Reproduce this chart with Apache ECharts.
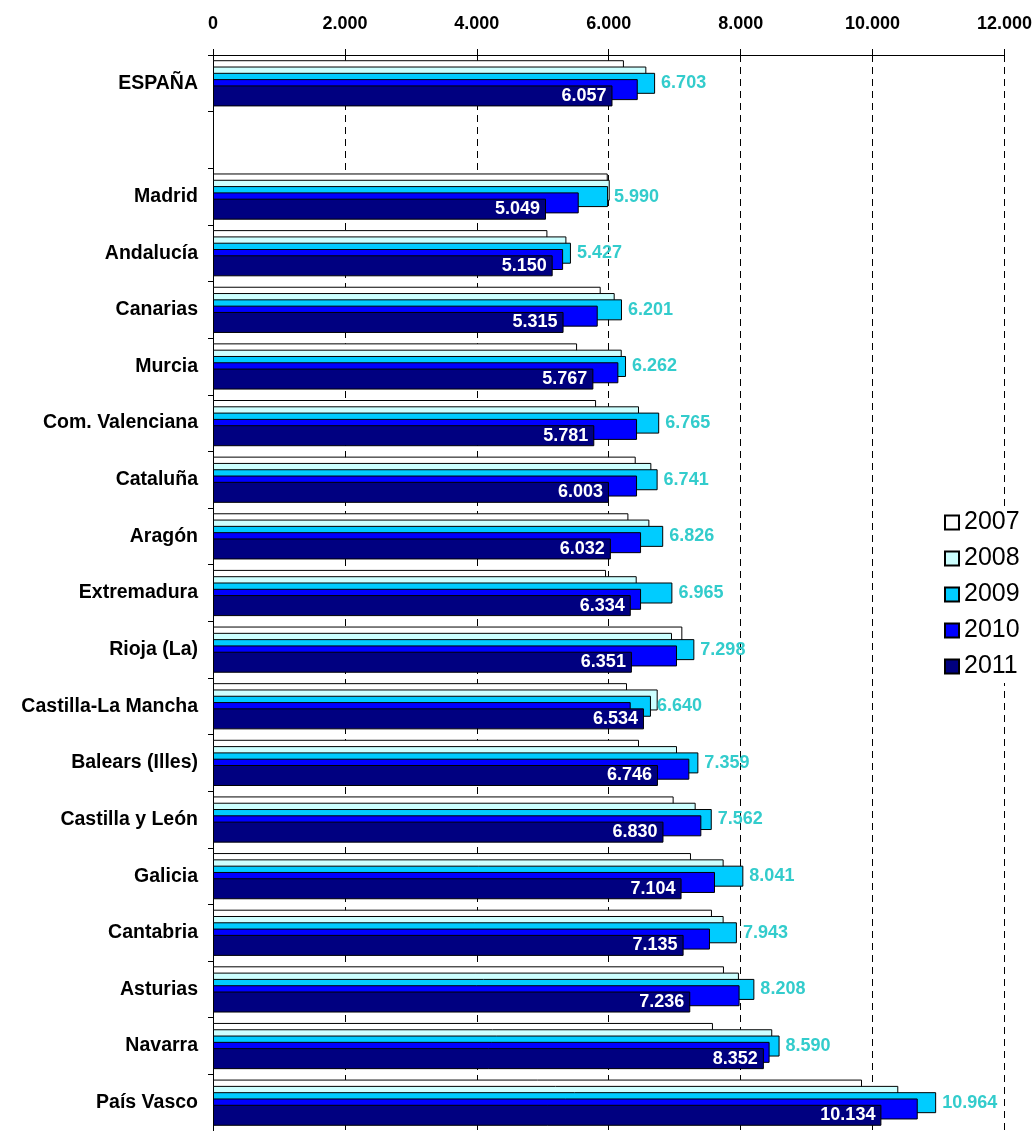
<!DOCTYPE html>
<html>
<head>
<meta charset="utf-8">
<title>Gasto por comunidad autónoma 2007-2011</title>
<script src="https://cdn.jsdelivr.net/npm/echarts@6/dist/echarts.min.js"></script>
<style>
  html, body { margin: 0; padding: 0; background: #fff; }
  #chart { width: 1035px; height: 1131px; }
</style>
</head>
<body>
<div id="chart"></div>
<script>
// Regions, top to bottom (blank row separates the national total)
const categories = ['ESPAÑA', '', 'Madrid', 'Andalucía', 'Canarias', 'Murcia', 'Com. Valenciana',
  'Cataluña', 'Aragón', 'Extremadura', 'Rioja (La)', 'Castilla-La Mancha', 'Balears (Illes)',
  'Castilla y León', 'Galicia', 'Cantabria', 'Asturias', 'Navarra', 'País Vasco'];

const years = ['2007', '2008', '2009', '2010', '2011'];

const v2007 = [6230, null, 5985, 5070, 5878, 5520, 5808, 6409, 6298, 5959, 7116, 6277, 6459, 6984, 7247, 7565, 7747, 7580, 9840];
const v2008 = [6570, null, 6015, 5358, 6090, 6197, 6459, 6646, 6616, 6424, 6959, 6742, 7035, 7318, 7742, 7742, 7974, 8479, 10390];
const v2009 = [6703, null, 5990, 5427, 6201, 6262, 6765, 6741, 6826, 6965, 7298, 6640, 7359, 7562, 8041, 7943, 8208, 8590, 10964];
const v2010 = [6440, null, 5545, 5308, 5833, 6146, 6429, 6429, 6490, 6490, 7035, 6333, 7222, 7404, 7611, 7535, 7984, 8439, 10685];
const v2011 = [6057, null, 5049, 5150, 5315, 5767, 5781, 6003, 6032, 6334, 6351, 6534, 6746, 6830, 7104, 7135, 7236, 8352, 10134];

const xTicks = { min: 0, max: 12000, step: 2000 };

const colors = ['#FFFFFF', '#CCFFFF', '#00CCFF', '#0000FF', '#000080'];
const FONT = 'Arial, "Liberation Sans", sans-serif';

// Spanish thousands separator
function fmt(n) {
  return String(Math.round(n)).replace(/\B(?=(\d{3})+(?!\d))/g, '.');
}

const seriesData = [v2007, v2008, v2009, v2010, v2011];

const series = years.map((y, i) => {
  const s = {
    name: y,
    type: 'bar',
    data: seriesData[i],
    barWidth: 21,
    barGap: '-70%',
    itemStyle: { color: colors[i], borderColor: '#000', borderWidth: 1 },
    emphasis: { disabled: true },
    label: { show: false }
  };
  if (y === '2009') {
    s.label = {
      show: true, position: 'right', distance: 6,
      color: '#33CCCC', fontFamily: FONT, fontWeight: 'bold', fontSize: 18,
      formatter: p => fmt(p.value)
    };
  }
  if (y === '2011') {
    s.label = {
      show: true, position: 'insideRight', distance: 6,
      color: '#FFFFFF', fontFamily: FONT, fontWeight: 'bold', fontSize: 18,
      formatter: p => fmt(p.value)
    };
  }
  return s;
});

const chart = echarts.init(document.getElementById('chart'), null, { renderer: 'canvas' });
chart.setOption({
  animation: false,
  backgroundColor: '#FFFFFF',
  grid: { left: 213, top: 55, width: 792, height: 1083, containLabel: false },
  xAxis: {
    type: 'value',
    position: 'top',
    min: xTicks.min,
    max: xTicks.max,
    interval: xTicks.step,
    axisLine: { show: true, lineStyle: { color: '#000', width: 1 } },
    axisTick: { show: true, length: 6, lineStyle: { color: '#000' } },
    axisLabel: {
      margin: 22, color: '#000', fontFamily: FONT, fontWeight: 'bold', fontSize: 18,
      formatter: v => fmt(v)
    },
    splitLine: { show: true, lineStyle: { color: '#000', width: 1, type: [7, 5] } }
  },
  yAxis: {
    type: 'category',
    inverse: true,
    data: categories,
    axisLine: { show: true, lineStyle: { color: '#000', width: 1 } },
    axisTick: { show: true, length: 5, lineStyle: { color: '#000' } },
    axisLabel: { margin: 15, color: '#000', fontFamily: FONT, fontWeight: 'bold', fontSize: 19.5 }
  },
  legend: {
    orient: 'vertical',
    left: 940,
    top: 506,
    data: years,
    icon: 'rect',
    itemWidth: 14,
    itemHeight: 14,
    itemGap: 11,
    padding: [4, 4, 4, 4],
    backgroundColor: '#FFFFFF',
    selectedMode: false,
    textStyle: { color: '#000', fontFamily: FONT, fontSize: 25, lineHeight: 24 }
  },
  series: series
});
</script>
</body>
</html>
